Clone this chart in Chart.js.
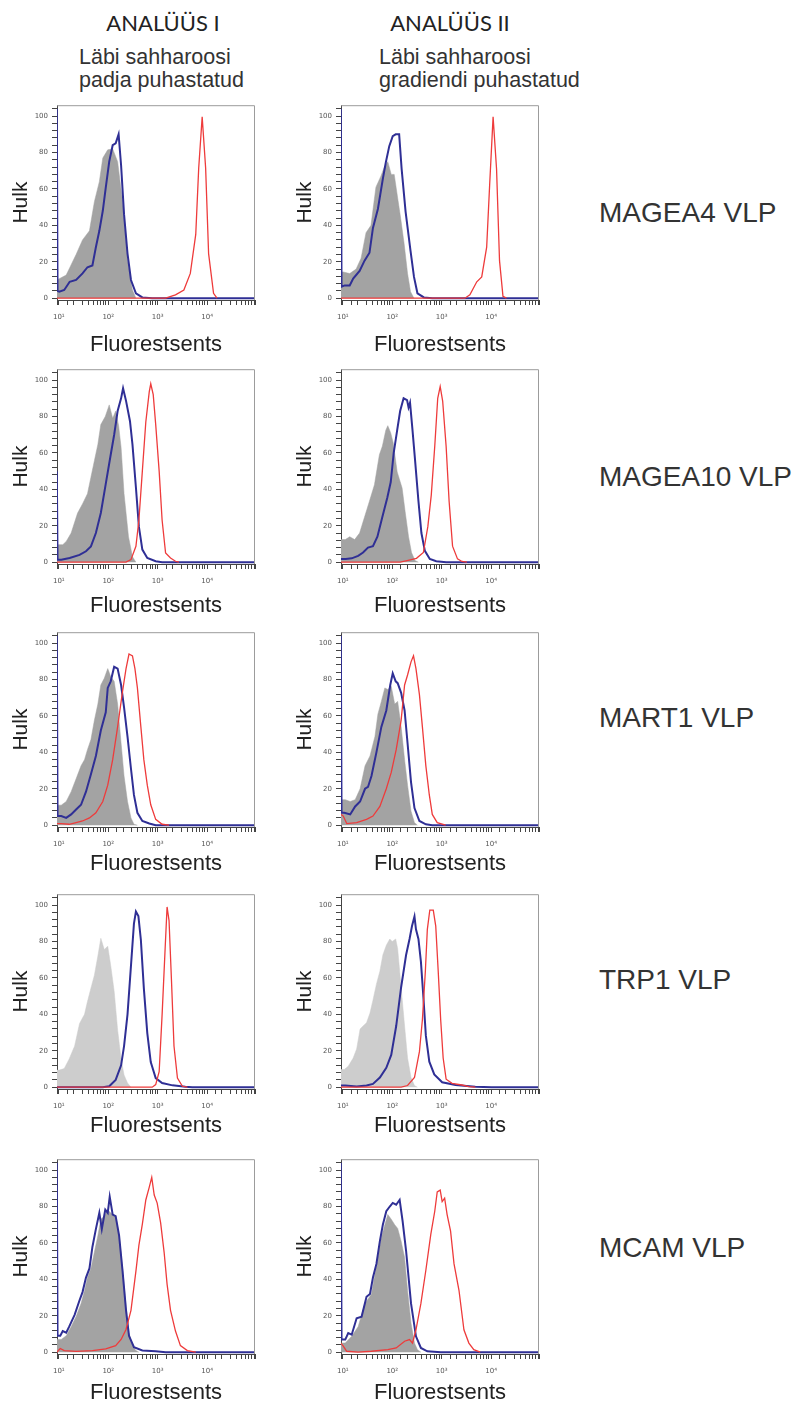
<!DOCTYPE html>
<html>
<head>
<meta charset="utf-8">
<script src="https://cdn.jsdelivr.net/npm/chart.js@4/dist/chart.umd.min.js"></script>
<style>
  body { margin: 0; background: #fff; }
  #page { position: relative; width: 795px; height: 1402px; overflow: hidden; }
  canvas { position: absolute; }
  .head { position: absolute; font-family: Lato, "Open Sans", sans-serif; font-size: 22px; line-height: 26px; color: #222; width: 200px; text-align: center; }
  .sub { position: absolute; font-family: "Liberation Sans", Arial, sans-serif; font-size: 21.5px; line-height: 23px; color: #333; white-space: nowrap; }
  .row { position: absolute; font-family: "Liberation Sans", Arial, sans-serif; font-size: 28px; line-height: 28px; color: #333; white-space: nowrap; }
</style>
</head>
<body>
<div id="page">
  <div class="head" style="left:63px; top:10px;">ANALÜÜS I</div>
  <div class="head" style="left:350px; top:10px;">ANALÜÜS II</div>
  <div class="sub" style="left:79px; top:46px;">Läbi sahharoosi<br>padja puhastatud</div>
  <div class="sub" style="left:379px; top:46px;">Läbi sahharoosi<br>gradiendi puhastatud</div>
</div>
<script>
// histogram curves: [log10 fluorescence, % of max]
var magea4_I_grey = [[0.96,10],[1.15,12.7],[1.35,24],[1.48,32],[1.62,37],[1.72,53],[1.82,64],[1.89,77],[1.99,81.5],[2.09,82],[2.19,75],[2.29,53],[2.39,21],[2.49,4.5],[2.56,0]];
var magea4_I_blue = [[0.96,104],[0.975,4],[1.01,3.6],[1.11,4.5],[1.22,9],[1.35,10],[1.48,13.6],[1.58,17],[1.68,18],[1.75,28],[1.82,37],[1.89,48],[1.95,60.7],[2.02,75],[2.09,84],[2.15,85],[2.21,90],[2.26,73],[2.32,46],[2.39,24.5],[2.46,10],[2.56,2.7],[2.69,0.4],[2.89,0],[4.97,0]];
var magea4_I_red = [[0.96,0],[3.16,0],[3.36,1.8],[3.53,4.5],[3.66,13.6],[3.77,35],[3.83,71.5],[3.90,99.6],[3.97,71.5],[4.03,24.5],[4.13,2.7],[4.20,0]];

var magea4_II_grey = [[0.96,14.4],[1.01,14.4],[1.14,13.5],[1.27,16],[1.37,22],[1.47,36],[1.57,40],[1.67,61],[1.77,67],[1.84,72],[1.91,75],[1.98,68],[2.04,68],[2.11,55],[2.17,44],[2.24,30],[2.31,13.5],[2.37,3.6],[2.44,0]];
var magea4_II_blue = [[0.96,104],[0.975,6.3],[1.04,7],[1.14,7],[1.21,10.8],[1.34,15],[1.44,20.6],[1.54,25],[1.61,38.6],[1.71,49],[1.81,65.5],[1.87,74.5],[1.94,83.5],[2.01,89],[2.07,90],[2.14,90],[2.19,71],[2.27,47.6],[2.37,26],[2.44,11.7],[2.51,2.7],[2.64,0.4],[2.81,0],[4.97,0]];
var magea4_II_red = [[0.96,0],[3.47,0],[3.57,1.8],[3.71,9],[3.81,11.7],[3.91,28],[3.97,62],[4.04,99.6],[4.11,71],[4.17,20.6],[4.24,1],[4.31,0]];

var magea10_I_grey = [[0.96,9.6],[1.08,9.6],[1.15,11.4],[1.25,16],[1.38,27],[1.48,32],[1.58,37.6],[1.65,46.7],[1.72,55.7],[1.79,64.7],[1.85,75.6],[1.94,80],[2.02,86.4],[2.09,79],[2.15,83],[2.21,75],[2.26,63],[2.32,37.6],[2.41,14],[2.49,3],[2.56,0]];
var magea10_I_blue = [[0.96,50],[0.975,1.4],[1.05,1.4],[1.22,2.3],[1.42,4],[1.55,6],[1.65,8.7],[1.75,16],[1.85,27],[1.95,43],[2.05,59],[2.12,70],[2.19,83],[2.26,90],[2.30,95.5],[2.36,88.6],[2.44,77.4],[2.49,64.7],[2.56,41],[2.62,19.5],[2.69,6.9],[2.79,2.3],[2.96,0.5],[3.09,0],[4.97,0]];
var magea10_I_red = [[0.96,0],[2.36,0],[2.46,1.4],[2.56,8.7],[2.62,23],[2.69,50],[2.76,77],[2.83,93.7],[2.86,98],[2.91,92],[2.96,75.6],[3.03,50],[3.09,23],[3.16,5],[3.26,2.3],[3.36,0.5],[3.43,0]];

var magea10_II_grey = [[0.96,12.4],[1.05,12.4],[1.14,14],[1.24,12.4],[1.34,16],[1.44,24.8],[1.54,33.6],[1.64,42.5],[1.74,59],[1.80,63.7],[1.87,72.5],[1.91,75],[1.97,71],[2.02,65.5],[2.10,49.6],[2.20,40.7],[2.26,28],[2.33,14],[2.39,5.3],[2.46,0.9],[2.53,0]];
var magea10_II_blue = [[0.96,1.8],[1.06,1.8],[1.18,2.1],[1.31,3.5],[1.41,5.3],[1.51,8],[1.61,8.8],[1.70,14],[1.80,24.8],[1.90,35.4],[1.97,44],[2.03,60],[2.10,72.5],[2.16,83],[2.23,90],[2.30,89],[2.33,85],[2.36,87.6],[2.41,72.5],[2.46,56.6],[2.53,33.6],[2.59,16],[2.66,6.2],[2.76,1.8],[2.89,0.5],[3.09,0],[4.97,0]];
var magea10_II_red = [[0.96,0],[2.16,0],[2.30,0.9],[2.49,2.1],[2.63,5.3],[2.72,19.5],[2.79,37],[2.86,63.7],[2.92,90],[2.97,96.5],[3.02,88.5],[3.09,63.7],[3.15,33.6],[3.22,8.8],[3.32,1.8],[3.41,0.4],[3.51,0]];

var mart1_I_grey = [[0.96,11],[1.05,11],[1.15,13],[1.25,18.4],[1.35,25.5],[1.45,32.6],[1.52,36],[1.58,41.5],[1.65,47],[1.72,57.6],[1.79,66.5],[1.85,77],[1.92,80.7],[1.99,86],[2.05,81.6],[2.12,79],[2.19,66.5],[2.26,45],[2.32,27],[2.39,13],[2.46,4],[2.52,0.5],[2.59,0]];
var mart1_I_blue = [[0.96,104],[0.975,5],[1.05,5],[1.15,4],[1.25,5.9],[1.35,8.6],[1.45,11.2],[1.55,18.4],[1.65,28],[1.75,38],[1.85,52],[1.95,62],[1.99,75.4],[2.05,79],[2.12,87],[2.19,86],[2.26,77],[2.32,64.7],[2.39,48.7],[2.46,31],[2.52,16.6],[2.59,6.8],[2.69,2.3],[2.83,0.9],[2.96,0],[4.97,0]];
var mart1_I_red = [[0.96,0.9],[1.05,0.9],[1.21,0.5],[1.35,1.4],[1.48,2.3],[1.62,4],[1.75,6.8],[1.89,13],[1.99,22],[2.09,36],[2.19,54],[2.29,73.6],[2.36,86],[2.42,94],[2.49,93],[2.54,86],[2.59,75.4],[2.66,54],[2.72,36],[2.79,22],[2.86,11.2],[2.96,3.2],[3.09,0.5],[3.23,0]];

var mart1_II_grey = [[0.96,14],[1.05,14],[1.15,13],[1.25,14],[1.35,20],[1.45,32.6],[1.55,38],[1.65,48.7],[1.71,61],[1.78,68],[1.85,75.4],[1.91,74.5],[1.98,76.3],[2.05,66.5],[2.11,68],[2.18,54],[2.25,36],[2.31,22],[2.38,7.7],[2.45,1.4],[2.51,0]];
var mart1_II_blue = [[0.96,104],[0.975,6.8],[1.03,6.8],[1.15,5.9],[1.25,10.3],[1.35,13],[1.45,20],[1.51,21],[1.58,27],[1.68,40],[1.78,54],[1.88,63],[1.96,77],[2.01,83.4],[2.07,79],[2.11,78],[2.18,72.7],[2.25,63],[2.31,45],[2.38,23.7],[2.45,9.4],[2.55,2.3],[2.68,0.5],[2.81,0],[4.97,0]];
var mart1_II_red = [[0.96,6],[1.01,5],[1.08,0.9],[1.28,1.4],[1.48,3.2],[1.61,5],[1.75,10.3],[1.88,20],[1.98,29],[2.08,41.5],[2.18,57.6],[2.25,77],[2.31,82.5],[2.38,89.7],[2.43,93],[2.48,86],[2.55,71.7],[2.61,54],[2.68,32.6],[2.75,16.6],[2.81,5.9],[2.91,1.4],[3.08,0]];

var trp1_I_grey = [[0.96,9.4],[1.01,9.4],[1.11,10.2],[1.21,15.5],[1.32,22.6],[1.42,35],[1.52,40],[1.58,47],[1.65,54.4],[1.72,61.5],[1.79,72],[1.85,81.8],[1.92,75.6],[1.99,77.4],[2.05,66.8],[2.12,52.7],[2.19,31.4],[2.26,15.5],[2.32,6.7],[2.39,2.3],[2.46,0]];
var trp1_I_blue = [[0.96,0],[1.89,0],[2.02,0.5],[2.15,4],[2.26,12],[2.32,22.6],[2.39,40],[2.46,66.8],[2.52,89.8],[2.56,96.5],[2.61,94],[2.66,81],[2.72,54.4],[2.79,29.7],[2.86,13.8],[2.96,5],[3.09,2.3],[3.30,1],[3.56,0.2],[3.70,0],[4.97,0]];
var trp1_I_red = [[0.96,0],[2.89,0],[2.96,1.4],[3.03,8.5],[3.09,40],[3.15,75.6],[3.19,99],[3.23,91.5],[3.28,58],[3.33,22.6],[3.40,5],[3.50,0.5],[3.60,0]];

var trp1_II_grey = [[0.96,9.7],[1.03,9.7],[1.11,11.5],[1.21,16],[1.28,21],[1.35,32],[1.41,33.6],[1.48,35.4],[1.55,40.7],[1.61,47.8],[1.68,56.6],[1.75,63.7],[1.81,72.6],[1.88,77.9],[1.95,81.4],[2.00,80],[2.07,81.4],[2.11,76],[2.18,54.9],[2.25,33.6],[2.31,16],[2.38,5.3],[2.45,0.9],[2.51,0]];
var trp1_II_blue = [[0.96,0.9],[1.05,0.9],[1.28,0.4],[1.48,0.9],[1.61,1.8],[1.75,5.3],[1.88,10.6],[1.98,17.7],[2.08,33.6],[2.18,54.9],[2.28,72.6],[2.35,81.4],[2.40,88.5],[2.45,93.8],[2.48,86.7],[2.53,81.4],[2.58,69],[2.63,49.6],[2.68,28.3],[2.75,14],[2.85,7],[3.01,2.7],[3.28,1.2],[3.68,0.3],[4.01,0],[4.97,0]];
var trp1_II_red = [[0.96,0],[2.18,0],[2.31,0.9],[2.45,5.3],[2.55,19.5],[2.61,37],[2.67,63.7],[2.71,86.7],[2.76,97.3],[2.83,97.3],[2.88,88.5],[2.93,63.7],[2.98,37],[3.03,16],[3.09,4.4],[3.21,2.1],[3.41,1.2],[3.55,0.3],[3.68,0]];

var mcam_I_grey = [[0.96,7],[1.05,7],[1.15,9],[1.25,14],[1.35,19.6],[1.45,26.7],[1.52,33.8],[1.58,41],[1.65,46],[1.72,55],[1.79,64],[1.85,73],[1.92,74.7],[1.99,78.3],[2.05,76.5],[2.15,74.7],[2.22,64],[2.29,46],[2.36,25],[2.42,10.7],[2.49,3.6],[2.56,0.9],[2.62,0]];
var mcam_I_blue = [[0.96,104],[0.975,9],[1.03,9],[1.08,11.6],[1.15,10.7],[1.21,14],[1.32,20.5],[1.42,28.5],[1.48,33],[1.55,41],[1.62,46],[1.68,57.8],[1.75,67.6],[1.82,76.5],[1.87,67.6],[1.94,78.3],[1.99,76.5],[2.03,85.4],[2.09,75.6],[2.15,74.7],[2.22,64],[2.29,44.5],[2.36,23],[2.42,9],[2.52,2.7],[2.69,0.9],[2.96,0.5],[3.16,0],[4.97,0]];
var mcam_I_red = [[0.96,0],[1.03,2],[1.11,0.9],[1.35,0.4],[1.68,0.9],[1.95,1.8],[2.15,3.6],[2.26,7],[2.36,12.5],[2.46,23],[2.56,44.5],[2.62,58.7],[2.69,70.3],[2.76,83.6],[2.83,90.7],[2.88,96],[2.93,86.3],[2.99,81.9],[3.06,71],[3.13,55],[3.19,37.4],[3.26,23],[3.36,11.6],[3.46,3.6],[3.60,0.9],[3.77,0]];

var mcam_II_grey = [[0.96,5],[1.05,5],[1.18,8.7],[1.31,14],[1.45,26.8],[1.58,32],[1.65,43],[1.71,52],[1.78,63],[1.85,70],[1.91,75.6],[1.98,73],[2.05,70],[2.11,68],[2.18,61],[2.25,52],[2.31,34],[2.38,16],[2.45,5],[2.51,1.4],[2.58,0]];
var mcam_II_blue = [[0.96,104],[0.975,6.9],[1.05,6.9],[1.11,10.5],[1.18,9.6],[1.28,18.6],[1.38,19.5],[1.48,30.4],[1.55,32],[1.61,41],[1.68,48.5],[1.75,61],[1.81,70],[1.88,77.4],[1.95,80],[2.01,82],[2.08,81],[2.15,83.7],[2.21,72],[2.28,55.7],[2.38,26.8],[2.48,8.7],[2.58,2.3],[2.71,0.5],[2.98,0],[4.97,0]];
var mcam_II_red = [[0.96,5],[1.01,3.3],[1.08,0.5],[1.31,0],[1.58,0.5],[1.91,1.4],[2.08,2.3],[2.25,6],[2.35,6.9],[2.41,5],[2.48,12.3],[2.58,26.8],[2.68,45],[2.78,64.7],[2.86,77.4],[2.91,88],[2.97,89],[3.01,82.7],[3.06,84.6],[3.11,75.6],[3.18,66.5],[3.25,48.5],[3.35,34],[3.45,12.3],[3.55,5],[3.65,1.4],[3.78,0]];

var rowNames = ['MAGEA4 VLP', 'MAGEA10 VLP', 'MART1 VLP', 'TRP1 VLP', 'MCAM VLP'];
var curves = [
  [[magea4_I_grey, magea4_I_blue, magea4_I_red], [magea4_II_grey, magea4_II_blue, magea4_II_red]],
  [[magea10_I_grey, magea10_I_blue, magea10_I_red], [magea10_II_grey, magea10_II_blue, magea10_II_red]],
  [[mart1_I_grey, mart1_I_blue, mart1_I_red], [mart1_II_grey, mart1_II_blue, mart1_II_red]],
  [[trp1_I_grey, trp1_I_blue, trp1_I_red], [trp1_II_grey, trp1_II_blue, trp1_II_red]],
  [[mcam_I_grey, mcam_I_blue, mcam_I_red], [mcam_II_grey, mcam_II_blue, mcam_II_red]]
];
var XMIN = 9.2, XMAX = 93000;

// layout
var frameTop = [103, 367, 630, 892, 1157];
var frameLeft = [57, 341];
var rowLabelY = [199, 463, 704, 966, 1234];
var titleGap = [2, 5, 10, 10, 8];
var greyFill = ['#a3a3a3', '#a3a3a3', '#a3a3a3', '#cdcdcd', '#a3a3a3'];
var BLUE = '#2f2f95', RED = '#ee3b3b';
var SUP = ['\u2070', '\u00b9', '\u00b2', '\u00b3', '\u2074', '\u2075'];

function pts(arr) {
  return arr.map(function(p){ return {x: Math.pow(10, p[0]), y: p[1]}; });
}

var framePlugin = {
  id: 'frame',
  afterDraw: function(chart) {
    var a = chart.chartArea, ctx = chart.ctx;
    ctx.save();
    ctx.strokeStyle = '#9c9c9c';
    ctx.lineWidth = 1;
    ctx.beginPath();
    ctx.moveTo(a.left, a.top + 0.5);
    ctx.lineTo(a.right - 0.5, a.top + 0.5);
    ctx.lineTo(a.right - 0.5, a.bottom);
    ctx.stroke();
    ctx.restore();
  }
};

var page = document.getElementById('page');
var W = 263, H = 263;

for (var r = 0; r < 5; r++) {
  var lab = document.createElement('div');
  lab.className = 'row';
  lab.style.left = '599px';
  lab.style.top = rowLabelY[r] + 'px';
  lab.textContent = rowNames[r];
  page.appendChild(lab);

  for (var c = 0; c < 2; c++) {
    var cv = document.createElement('canvas');
    cv.width = W; cv.height = H;
    cv.style.left = (frameLeft[c] - 57) + 'px';
    cv.style.top = (frameTop[r] - 6) + 'px';
    page.appendChild(cv);
    var set = curves[r][c];

    new Chart(cv, {
      type: 'line',
      data: {
        datasets: [
          {data: pts(set[2]), borderColor: RED, borderWidth: 1.3, pointRadius: 0, fill: false},
          {data: pts(set[1]), borderColor: BLUE, borderWidth: 2, pointRadius: 0, fill: false},
          {data: pts(set[0]), borderColor: greyFill[r], borderWidth: 0.5, backgroundColor: greyFill[r], pointRadius: 0, fill: 'origin'}
        ]
      },
      options: {
        responsive: false,
        animation: false,
        layout: {padding: {top: 6, right: 6, left: 0, bottom: 0}},
        plugins: {legend: {display: false}, tooltip: {enabled: false}},
        scales: {
          x: {
            type: 'logarithmic',
            min: XMIN, max: XMAX,
            border: {color: '#444', width: 1},
            grid: {drawOnChartArea: false, tickLength: 5, color: '#444'},
            ticks: {
              autoSkip: false, maxRotation: 0, padding: 8, color: '#555',
              font: {size: 7, family: 'DejaVu Sans'},
              callback: function(v) {
                var e = Math.log10(v);
                return Math.abs(e - Math.round(e)) < 1e-6 ? '10' + SUP[Math.round(e)] : '';
              }
            },
            title: {display: true, text: 'Fluorestsents', color: '#222',
                    font: {size: 22, family: 'Liberation Sans'}, padding: {top: 0, bottom: titleGap[r]}},
            afterFit: function(s) { s.height = 60; }
          },
          y: {
            min: -1, max: 106,
            border: {color: '#444', width: 1},
            grid: {drawOnChartArea: false, tickLength: 5, color: '#444'},
            ticks: {
              stepSize: 4, includeBounds: false, autoSkip: false, padding: 4, color: '#555',
              font: {size: 7, family: 'DejaVu Sans'},
              callback: function(v) { return Math.round(v) % 20 === 0 ? String(Math.round(v)) : ''; }
            },
            title: {display: true, text: 'Hulk', color: '#222',
                    font: {size: 21, family: 'Liberation Sans'}, padding: {top: 9, bottom: 0}},
            afterFit: function(s) { s.width = 57; }
          }
        }
      },
      plugins: [framePlugin]
    });
  }
}
</script>
</body>
</html>
